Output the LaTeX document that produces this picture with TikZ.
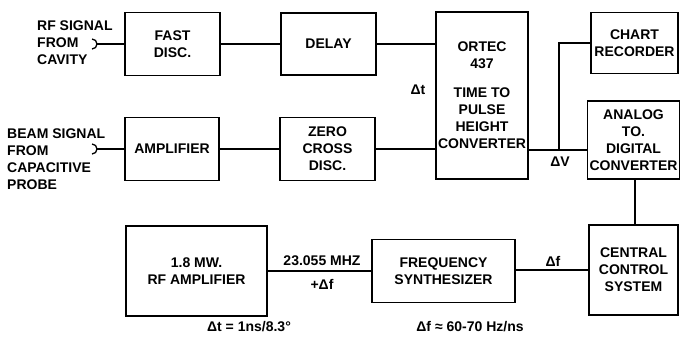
\documentclass[tikz,border=0pt]{standalone}
\usepackage{fontspec}
\setmainfont{Liberation Sans}
\usepackage{tikz}
\usetikzlibrary{positioning}

\begin{document}
\begin{tikzpicture}[
    x=1pt, y=-1pt,
    txt/.style={font=\fontsize{14}{17}\selectfont\bfseries, inner sep=1pt},
    blk/.style={
        draw,
        rectangle,
        line width=1.7pt,
        txt,
        align=center,   % <-- centred lines inside each block
        inner sep=2pt
    },
    wire/.style={line width=1.5pt},
    jack/.style={line width=1.3pt}
]
    \useasboundingbox (0,0) rectangle (680,338);

    % top row
    \node[blk, minimum width=95, minimum height=63] (fast) at (172.5,44) {FAST\\DISC.};
    \node[blk, minimum width=95, minimum height=62] (delay) at (328.5,44) {DELAY};
    \node[blk, minimum width=92, minimum height=167] (ortec) at (482,95.5)
        {ORTEC\\437\\[12pt]TIME TO\\PULSE\\HEIGHT\\CONVERTER};
    \node[blk, minimum width=87, minimum height=61] (chart) at (634.5,43) {CHART\\RECORDER};

    % middle row
    \node[blk, minimum width=94, minimum height=63] (amp) at (172,149) {AMPLIFIER};
    \node[blk, minimum width=95, minimum height=63] (zero) at (327.5,149) {ZERO\\CROSS\\DISC.};
    \node[blk, minimum width=89, minimum height=78] (adc) at (633.5,140) {ANALOG\\TO.\\DIGITAL\\CONVERTER};

    % bottom row
    \node[blk, minimum width=141, minimum height=90] (rfamp) at (196.5,271) {1.8 MW.\\RF AMPLIFIER};
    \node[blk, minimum width=143, minimum height=63] (synth) at (443.5,271) {FREQUENCY\\SYNTHESIZER};
    \node[blk, minimum width=89, minimum height=90] (central) at (633.5,270) {CENTRAL\\CONTROL\\SYSTEM};

    % signal inputs
    \node[txt, align=left, anchor=west] (rflbl) at (36,43) {RF SIGNAL\\FROM\\CAVITY};
    \node[txt, align=left, anchor=west] (beamlbl) at (6,159) {BEAM SIGNAL\\FROM\\CAPACITIVE\\PROBE};
    \coordinate (rfin) at (96,44);
    \coordinate (beamin) at (96,149);
    \draw[jack] ([shift={(-4,-5)}]rfin) arc[start angle=-90, end angle=90, radius=5];
    \draw[jack] ([shift={(-4,-5)}]beamin) arc[start angle=-90, end angle=90, radius=5];

    % connectors
    \draw[wire] (rfin) -- (fast.west);
    \draw[wire] (fast.east) -- (delay.west);
    \draw[wire] (delay.east) -- (delay.east -| ortec.west);
    \draw[wire] (beamin) -- (amp.west);
    \draw[wire] (amp.east) -- (zero.west);
    \draw[wire] (zero.east) -- (zero.east -| ortec.west);
    \coordinate (dv) at (559,150);
    \draw[wire] (dv -| ortec.east) -- (dv -| adc.west);
    \draw[wire] (dv) |- (chart.west);
    \draw[wire] (adc.south -| 635,0) -- (central.north -| 635,0);
    \draw[wire] (central.west) -- (central.west -| synth.east);
    \draw[wire] (synth.west) -- (synth.west -| rfamp.east);

    % labels
    \node[txt] (dtlbl) at (418,90) {Δt};
    \node[txt] (dvlbl) at (560,162) {ΔV};
    \node[txt] (dflbl) at (553,261) {Δf};
    \node[txt] (mhz) at (322,261) {23.055 MHZ};
    \node[txt] (pdf) at (322,284) {+Δf};
    \node[txt] (dtnote) at (249,327) {Δt = 1ns/8.3°};
    \node[txt] (dfnote) at (470,327) {Δf ≈ 60-70 Hz/ns};
\end{tikzpicture}
\end{document}
